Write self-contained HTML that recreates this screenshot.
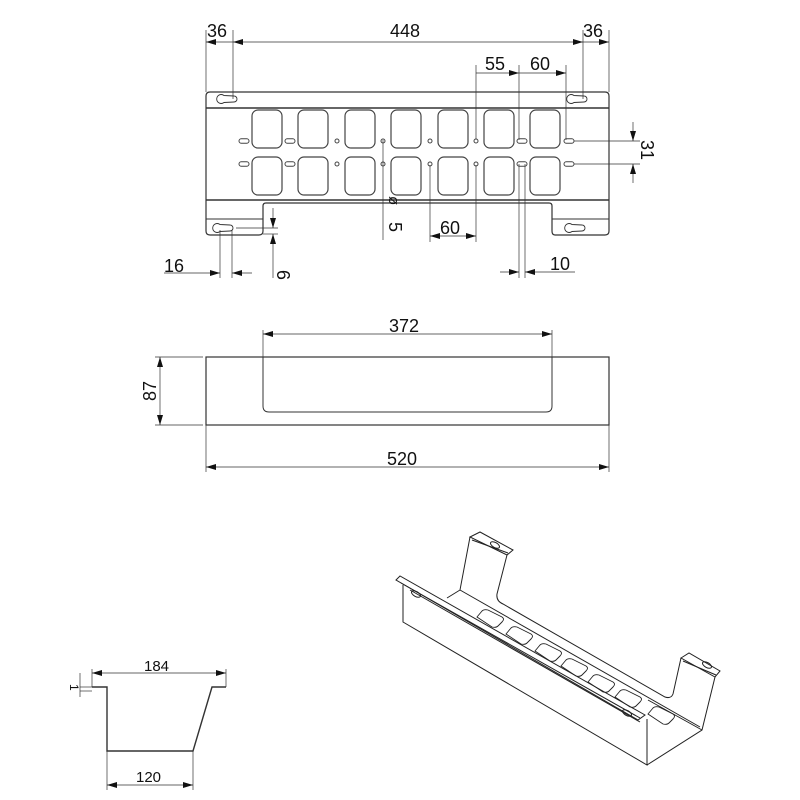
<!DOCTYPE html>
<html><head><meta charset="utf-8"><style>
html,body{margin:0;padding:0;background:#fff;width:800px;height:800px;overflow:hidden}
svg{display:block}
text{font-family:"Liberation Sans",sans-serif;fill:#111}
</style></head><body>
<svg width="800" height="800" viewBox="0 0 800 800" xmlns="http://www.w3.org/2000/svg">
<defs>
<marker id="a" viewBox="0 0 10 6" refX="10" refY="3" markerWidth="10" markerHeight="6" orient="auto-start-reverse" markerUnits="userSpaceOnUse"><path d="M0,0 L10,3 L0,6z" fill="#111"/></marker>
<g id="sq"><rect x="-15" y="-19" width="30" height="38" rx="6" fill="none" stroke="#444" stroke-width="1.2"/></g>
<g id="sl"><rect x="-5" y="-2.2" width="10" height="4.4" rx="2.2" fill="none" stroke="#444"/></g>
<g id="ci"><circle r="2" fill="none" stroke="#444"/></g>
<g id="kh"><path d="M-1,-3.5 A4.5,4.5 0 1 0 -1,3.5 L9,3 A3,3 0 0 0 9,-3 Z" fill="none" stroke="#333" stroke-width=".9"/></g>
</defs>
<g stroke="#333" stroke-width="1" fill="none">
<path d="M210,92 H605 Q609,92 609,96 V231 Q609,235 605,235 H555 Q552,235 552,231 V206 Q552,203 549,203 H266 Q263,203 263,206 V231 Q263,235 259,235 H210 Q206,235 206,231 V96 Q206,92 210,92Z" stroke-width="1.2"/>
<line x1="206" y1="108" x2="609" y2="108" stroke-width="1.6"/>
<line x1="206" y1="200" x2="609" y2="200" stroke-width="1.4"/>
<line x1="206" y1="219" x2="263" y2="219"/>
<line x1="552" y1="219" x2="609" y2="219"/>
<line x1="206" y1="30" x2="206" y2="92" stroke-width=".7"/>
<line x1="233" y1="30" x2="233" y2="99" stroke-width=".7"/>
<line x1="583" y1="30" x2="583" y2="99" stroke-width=".7"/>
<line x1="609" y1="30" x2="609" y2="92" stroke-width=".7"/>
<line x1="206" y1="42" x2="233" y2="42" stroke-width=".7" marker-start="url(#a)"/>
<line x1="233" y1="42" x2="583" y2="42" stroke-width=".7" marker-start="url(#a)" marker-end="url(#a)"/>
<line x1="583" y1="42" x2="609" y2="42" stroke-width=".7" marker-end="url(#a)"/>
<line x1="476" y1="65" x2="476" y2="139" stroke-width=".7"/>
<line x1="519" y1="65" x2="519" y2="140" stroke-width=".7"/>
<line x1="566" y1="65" x2="566" y2="140" stroke-width=".7"/>
<line x1="476" y1="73" x2="519" y2="73" stroke-width=".7" marker-end="url(#a)"/>
<line x1="519" y1="73" x2="566" y2="73" stroke-width=".7" marker-end="url(#a)"/>
<line x1="574" y1="141" x2="640" y2="141" stroke-width=".7"/>
<line x1="574" y1="164" x2="640" y2="164" stroke-width=".7"/>
<line x1="633" y1="122" x2="633" y2="141" stroke-width=".7" marker-end="url(#a)"/>
<line x1="633" y1="183" x2="633" y2="164" stroke-width=".7" marker-end="url(#a)"/>
<line x1="383" y1="140" x2="383" y2="240" stroke-width=".7"/>
<line x1="430" y1="165" x2="430" y2="242" stroke-width=".7"/>
<line x1="476" y1="165" x2="476" y2="242" stroke-width=".7"/>
<line x1="430" y1="236" x2="476" y2="236" stroke-width=".7" marker-start="url(#a)" marker-end="url(#a)"/>
<line x1="220" y1="230" x2="220" y2="278" stroke-width=".7"/>
<line x1="232" y1="230" x2="232" y2="278" stroke-width=".7"/>
<line x1="164" y1="273" x2="220" y2="273" stroke-width=".7" marker-end="url(#a)"/>
<line x1="252" y1="273" x2="232" y2="273" stroke-width=".7" marker-end="url(#a)"/>
<line x1="236" y1="228" x2="278" y2="228" stroke-width=".7"/>
<line x1="263" y1="234" x2="278" y2="234" stroke-width=".7"/>
<line x1="273" y1="208" x2="273" y2="228" stroke-width=".7" marker-end="url(#a)"/>
<line x1="273" y1="278" x2="273" y2="234" stroke-width=".7" marker-end="url(#a)"/>
<line x1="519" y1="164" x2="519" y2="278" stroke-width=".7"/>
<line x1="525" y1="164" x2="525" y2="278" stroke-width=".7"/>
<line x1="500" y1="272" x2="519" y2="272" stroke-width=".7" marker-end="url(#a)"/>
<line x1="575" y1="272" x2="525" y2="272" stroke-width=".7" marker-end="url(#a)"/>
<rect x="206" y="357" width="403" height="68" stroke-width="1.2"/>
<path d="M263,357 V406 Q263,412 269,412 H546 Q552,412 552,406 V357" stroke-width="1"/>
<line x1="263" y1="330" x2="263" y2="357" stroke-width=".7"/>
<line x1="552" y1="330" x2="552" y2="357" stroke-width=".7"/>
<line x1="263" y1="334" x2="552" y2="334" stroke-width=".7" marker-start="url(#a)" marker-end="url(#a)"/>
<line x1="206" y1="425" x2="206" y2="472" stroke-width=".7"/>
<line x1="609" y1="425" x2="609" y2="472" stroke-width=".7"/>
<line x1="206" y1="467" x2="609" y2="467" stroke-width=".7" marker-start="url(#a)" marker-end="url(#a)"/>
<line x1="155" y1="357" x2="203" y2="357" stroke-width=".7"/>
<line x1="155" y1="425" x2="203" y2="425" stroke-width=".7"/>
<line x1="160" y1="357" x2="160" y2="425" stroke-width=".7" marker-start="url(#a)" marker-end="url(#a)"/>
<path d="M92,687 H107 V751 H193 L212,687 H226" stroke-width="1.4"/>
<line x1="92" y1="669" x2="92" y2="687" stroke-width=".7"/>
<line x1="226" y1="669" x2="226" y2="687" stroke-width=".7"/>
<line x1="92" y1="673" x2="226" y2="673" stroke-width=".7" marker-start="url(#a)" marker-end="url(#a)"/>
<line x1="107" y1="751" x2="107" y2="790" stroke-width=".7"/>
<line x1="193" y1="751" x2="193" y2="790" stroke-width=".7"/>
<line x1="107" y1="785" x2="193" y2="785" stroke-width=".7" marker-start="url(#a)" marker-end="url(#a)"/>
<line x1="80" y1="687" x2="92" y2="687" stroke-width=".7"/>
<line x1="80" y1="691" x2="92" y2="691" stroke-width=".7"/>
<line x1="80" y1="673" x2="80" y2="697" stroke-width=".7"/>
<g stroke-width="1" stroke="#222">
<path d="M396,580 L400,576 L645,715 L638,720 Z"/>
<line x1="401" y1="583" x2="640" y2="718"/>
<path d="M403,585 V622 L647,765 V719"/>
<path d="M647,765 L702,730 L715,677"/>
<path d="M702,730 L648,700"/>
<path d="M470,537 L480,532 L513,550 L507,555 Z"/>
<line x1="472" y1="540" x2="508" y2="553"/>
<path d="M470,537 L460,590 L447,598"/>
<path d="M507,555 L497,594 Q496,601 503,604 L665,697 Q671,699 673,694 L681,658"/>
<path d="M681,658 L689,653 L720,671 L715,677 Z"/>
<line x1="683" y1="661" x2="716" y2="675"/>
<line x1="460" y1="590" x2="700" y2="727"/>
<line x1="410" y1="590" x2="640" y2="722"/>
<ellipse cx="416" cy="594" rx="5" ry="2.5" transform="rotate(30 416 594)"/>
<ellipse cx="495" cy="545" rx="5" ry="2.5" transform="rotate(30 495 545)"/>
<ellipse cx="707" cy="665" rx="5" ry="2.5" transform="rotate(30 707 665)"/>
<ellipse cx="627" cy="713" rx="5" ry="2.5" transform="rotate(30 627 713)"/>
<g stroke-width=".9">
<path d="M477,617 l5,-6 q2,-2 6,-1 l14,7 q3,2 0,5 l-4,4 q-2,2 -6,1 z"/>
<path d="M506,634 l5,-6 q2,-2 6,-1 l14,7 q3,2 0,5 l-4,4 q-2,2 -6,1 z"/>
<path d="M535,651 l5,-6 q2,-2 6,-1 l14,7 q3,2 0,5 l-4,4 q-2,2 -6,1 z"/>
<path d="M561,666 l5,-6 q2,-2 6,-1 l14,7 q3,2 0,5 l-4,4 q-2,2 -6,1 z"/>
<path d="M588,682 l5,-6 q2,-2 6,-1 l14,7 q3,2 0,5 l-4,4 q-2,2 -6,1 z"/>
<path d="M615,697 l5,-6 q2,-2 6,-1 l14,7 q3,2 0,5 l-4,4 q-2,2 -6,1 z"/>
<path d="M648,714 l5,-6 q2,-2 6,-1 l14,7 q3,2 0,5 l-4,4 q-2,2 -6,1 z"/>
</g>
</g>
</g>
<g>
<use href="#sq" x="267" y="129"/><use href="#sq" x="313" y="129"/><use href="#sq" x="360" y="129"/><use href="#sq" x="406" y="129"/><use href="#sq" x="453" y="129"/><use href="#sq" x="499" y="129"/><use href="#sq" x="545" y="129"/>
<use href="#sq" x="267" y="176"/><use href="#sq" x="313" y="176"/><use href="#sq" x="360" y="176"/><use href="#sq" x="406" y="176"/><use href="#sq" x="453" y="176"/><use href="#sq" x="499" y="176"/><use href="#sq" x="545" y="176"/>
<use href="#sl" x="244" y="141"/><use href="#sl" x="290" y="141"/><use href="#ci" x="337" y="141"/><use href="#ci" x="383" y="141"/><use href="#ci" x="430" y="141"/><use href="#ci" x="476" y="141"/><use href="#sl" x="522" y="141"/><use href="#sl" x="569" y="141"/>
<use href="#sl" x="244" y="164"/><use href="#sl" x="290" y="164"/><use href="#ci" x="337" y="164"/><use href="#ci" x="383" y="164"/><use href="#ci" x="430" y="164"/><use href="#ci" x="476" y="164"/><use href="#sl" x="522" y="164"/><use href="#sl" x="569" y="164"/>
<use href="#kh" x="225" y="99"/><use href="#kh" x="575" y="99"/><use href="#kh" x="221" y="228"/><use href="#kh" x="573" y="228"/>
</g>
<g font-size="18">
<text x="207" y="37">36</text>
<text x="390" y="37">448</text>
<text x="583" y="37">36</text>
<text x="485" y="70">55</text>
<text x="530" y="70">60</text>
<text x="440" y="234">60</text>
<text x="164" y="272">16</text>
<text x="550" y="270">10</text>
<text x="389" y="332">372</text>
<text x="387" y="465">520</text>
<text transform="translate(641,140) rotate(90)">31</text>
<text transform="translate(389,222) rotate(90)">5</text>
<text transform="translate(389,196) rotate(90)" font-size="15">ø</text>
<text transform="translate(290,280) rotate(-90)">9</text>
<text transform="translate(156,401) rotate(-90)">87</text>
</g>
<g font-size="15">
<text x="144" y="671">184</text>
<text x="136" y="782">120</text>
<text transform="translate(70,684) rotate(90)" font-size="12">1</text>
</g>
</svg>
</body></html>
